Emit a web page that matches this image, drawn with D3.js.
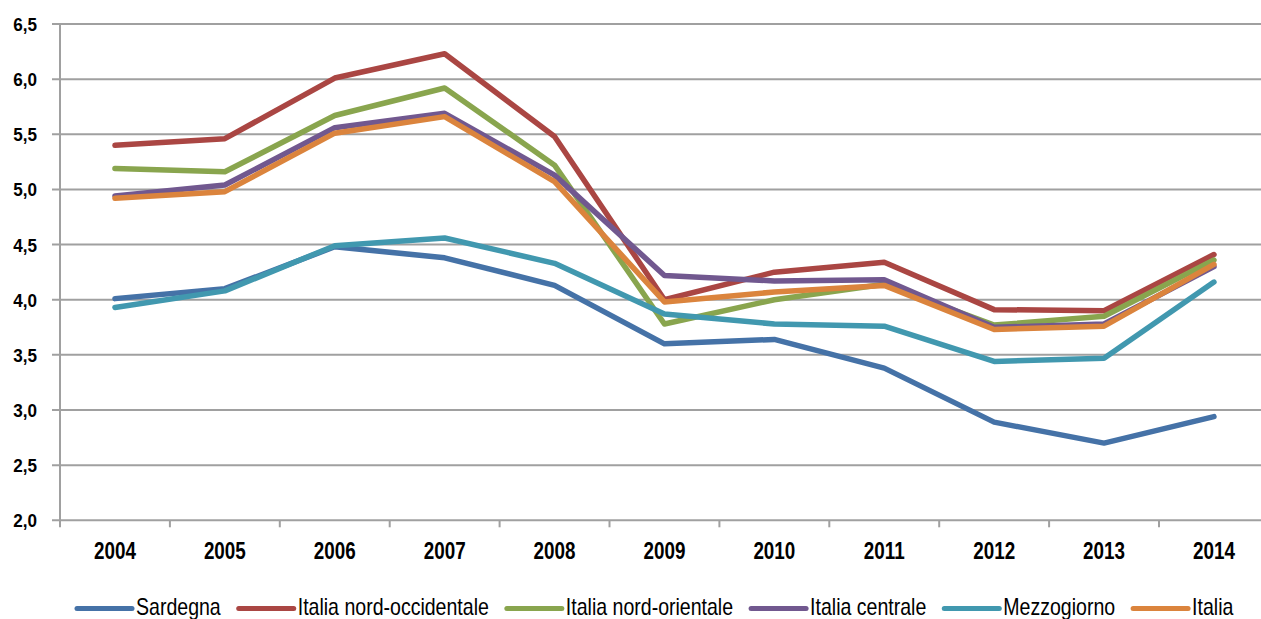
<!DOCTYPE html>
<html>
<head>
<meta charset="utf-8">
<script src="https://cdn.jsdelivr.net/npm/d3@7"></script>
<style>
    body { margin: 0; background: #fff; }
    svg text { font-family: "Liberation Sans", Arial, sans-serif; fill: #000; }
</style>
</head>
<body>
<div id="chart"></div>
<script>
// data
const years = ['2004', '2005', '2006', '2007', '2008', '2009', '2010', '2011', '2012', '2013', '2014'];
const seriesNames = ['Sardegna', 'Italia nord-occidentale', 'Italia nord-orientale', 'Italia centrale', 'Mezzogiorno', 'Italia'];
const sardegna = [4.01, 4.10, 4.48, 4.38, 4.13, 3.60, 3.64, 3.38, 2.89, 2.70, 2.94];
const nordOccidentale = [5.40, 5.46, 6.01, 6.23, 5.48, 4.00, 4.25, 4.34, 3.91, 3.90, 4.41];
const nordOrientale = [5.19, 5.16, 5.67, 5.92, 5.22, 3.78, 4.00, 4.14, 3.77, 3.85, 4.36];
const centrale = [4.94, 5.04, 5.56, 5.69, 5.13, 4.22, 4.17, 4.18, 3.75, 3.78, 4.30];
const mezzogiorno = [3.93, 4.08, 4.49, 4.56, 4.33, 3.87, 3.78, 3.76, 3.44, 3.47, 4.16];
const italia = [4.92, 4.98, 5.51, 5.66, 5.07, 3.98, 4.07, 4.13, 3.73, 3.76, 4.32];
const yTicks = [2.0, 2.5, 3.0, 3.5, 4.0, 4.5, 5.0, 5.5, 6.0, 6.5];
const colors = ['#4572A7', '#AA4643', '#89A54E', '#71588F', '#4198AF', '#DB843D'];

const allSeries = [sardegna, nordOccidentale, nordOrientale, centrale, mezzogiorno, italia];

const width = 1261, height = 619;
const margin = {left: 60, top: 24, bottom: 520.3};
const bandW = 109.9;

const svg = d3.select('#chart').append('svg')
    .attr('width', width)
    .attr('height', height);

const x = d3.scaleBand()
    .domain(years)
    .range([margin.left, margin.left + bandW * years.length]);

const y = d3.scaleLinear()
    .domain([2, 6.5])
    .range([margin.bottom, margin.top]);

const gridColor = '#a0a0a0';

// horizontal gridlines
svg.append('g')
    .selectAll('line')
    .data(yTicks)
    .enter().append('line')
    .attr('x1', margin.left - 8)
    .attr('x2', width)
    .attr('y1', d => y(d))
    .attr('y2', d => y(d))
    .attr('stroke', gridColor)
    .attr('stroke-width', 2);

// y axis line
svg.append('line')
    .attr('x1', margin.left).attr('x2', margin.left)
    .attr('y1', margin.top).attr('y2', margin.bottom + 7)
    .attr('stroke', gridColor)
    .attr('stroke-width', 2);

// x tick marks between categories
svg.append('g')
    .selectAll('line')
    .data(years.slice(1))
    .enter().append('line')
    .attr('x1', d => x(d))
    .attr('x2', d => x(d))
    .attr('y1', margin.bottom)
    .attr('y2', margin.bottom + 7)
    .attr('stroke', gridColor)
    .attr('stroke-width', 2);

// narrow look: squeeze the text horizontally
const yScaleX = 0.9, xScaleX = 0.82, legScaleX = 0.85;

// y labels
svg.append('g')
    .selectAll('text')
    .data(yTicks)
    .enter().append('text')
    .attr('transform', d => `translate(37,${y(d) + 7}) scale(${yScaleX},1)`)
    .attr('text-anchor', 'end')
    .style('font-size', '19px')
    .style('font-weight', 'bold')
    .text(d => d3.format('.1f')(d).replace('.', ','));

// x labels
svg.append('g')
    .selectAll('text')
    .data(years)
    .enter().append('text')
    .attr('transform', d => `translate(${x(d) + x.bandwidth() / 2},558.5) scale(${xScaleX},1)`)
    .attr('text-anchor', 'middle')
    .style('font-size', '23px')
    .style('font-weight', 'bold')
    .text(d => d);

// lines
const line = d3.line()
    .x((d, i) => x(years[i]) + x.bandwidth() / 2)
    .y(d => y(d));

svg.append('g')
    .selectAll('path')
    .data(allSeries)
    .enter().append('path')
    .attr('d', d => line(d))
    .attr('fill', 'none')
    .attr('stroke', (d, i) => colors[i])
    .attr('stroke-width', 5.5)
    .attr('stroke-linejoin', 'round')
    .attr('stroke-linecap', 'round');

// legend
const legend = svg.append('g');
let lx = 77;
const ly = 608.5;
seriesNames.forEach(function(name, i) {
    legend.append('line')
        .attr('x1', lx).attr('x2', lx + 55)
        .attr('y1', ly).attr('y2', ly)
        .attr('stroke', colors[i])
        .attr('stroke-width', 5)
        .attr('stroke-linecap', 'round');
    const t = legend.append('text')
        .attr('transform', `translate(${lx + 59},614.7) scale(${legScaleX},1)`)
        .style('font-size', '23px')
        .text(name);
    lx += 59 + t.node().getComputedTextLength() * legScaleX + 18;
});
</script>
</body>
</html>
